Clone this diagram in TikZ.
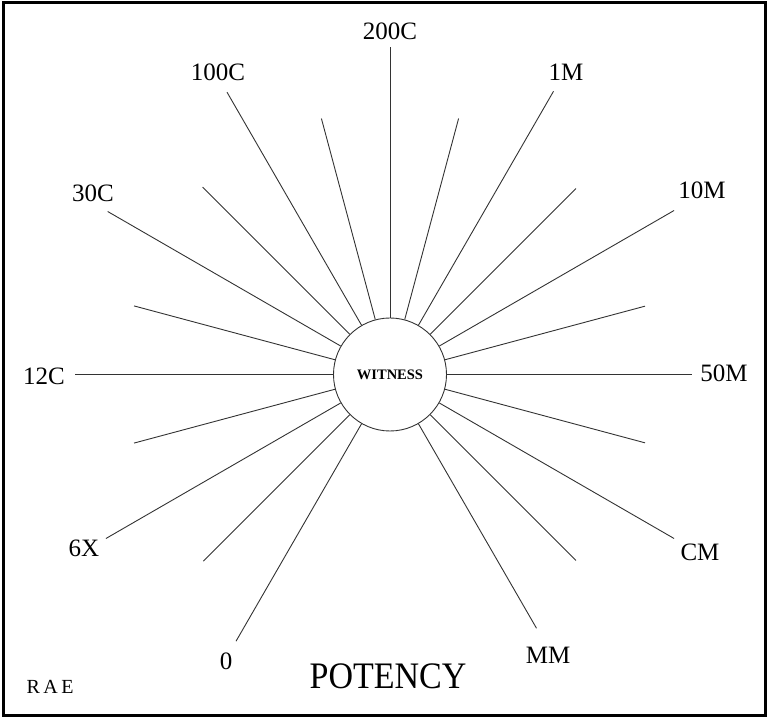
\documentclass[tikz,border=0pt]{standalone}
\usepackage{fontspec}
\setmainfont{Liberation Serif}
\usetikzlibrary{calc}
\begin{document}
\begin{tikzpicture}[x=1pt,y=1pt,
  ray/.style={line width=0.9pt,draw=black!80},
  lbl/.style={inner sep=0pt,font=\fontsize{25}{25}\selectfont},
  frame/.style={line width=3pt,draw=black}]
\useasboundingbox (0,0) rectangle (768,718);
\draw[frame] (3,3) rectangle (765,715);
\node[circle,draw=black!80,line width=0.9pt,minimum size=113pt,inner sep=0pt,
  font=\fontsize{14.5}{14.5}\selectfont\bfseries] (w) at (390,343.5) {WITNESS};
\foreach \a/\r [count=\i] in {90/327,75/265,60/327,45/263,30/328,15/264,0/302,-15/264,-30/328,-45/263,-60/293,
  -120/308,-135/264,-150/328,-165/265,180/315,165/265,150/326,135/265,120/326,105/265}{
  \coordinate (e\i) at ($(w.center)+(\a:\r)$);
  \draw[ray] (w.\a) -- (e\i);
}
\node[lbl] (l200C) at (390,687) {200C};
\node[lbl] (l1M) at (566,646) {1M};
\node[lbl] (l10M) at (702,528) {10M};
\node[lbl] (l50M) at (724,345) {50M};
\node[lbl] (lCM) at (700,166) {CM};
\node[lbl] (lMM) at (548,63) {MM};
\node[lbl] (l0) at (226,57) {0};
\node[lbl] (l6X) at (84,170) {6X};
\node[lbl] (l12C) at (44,342) {12C};
\node[lbl] (l30C) at (93,525) {30C};
\node[lbl] (l100C) at (218,646) {100C};
\node[inner sep=0pt,font=\fontsize{34}{34}\selectfont] (pot) at (388,42) {\scalebox{1}[1.1]{POTENCY}};
\node[inner sep=0pt,font=\fontsize{20}{20}\selectfont] (rae) at (50,31) {R\kern3.5pt A\kern3.5pt E};
\end{tikzpicture}
\end{document}
